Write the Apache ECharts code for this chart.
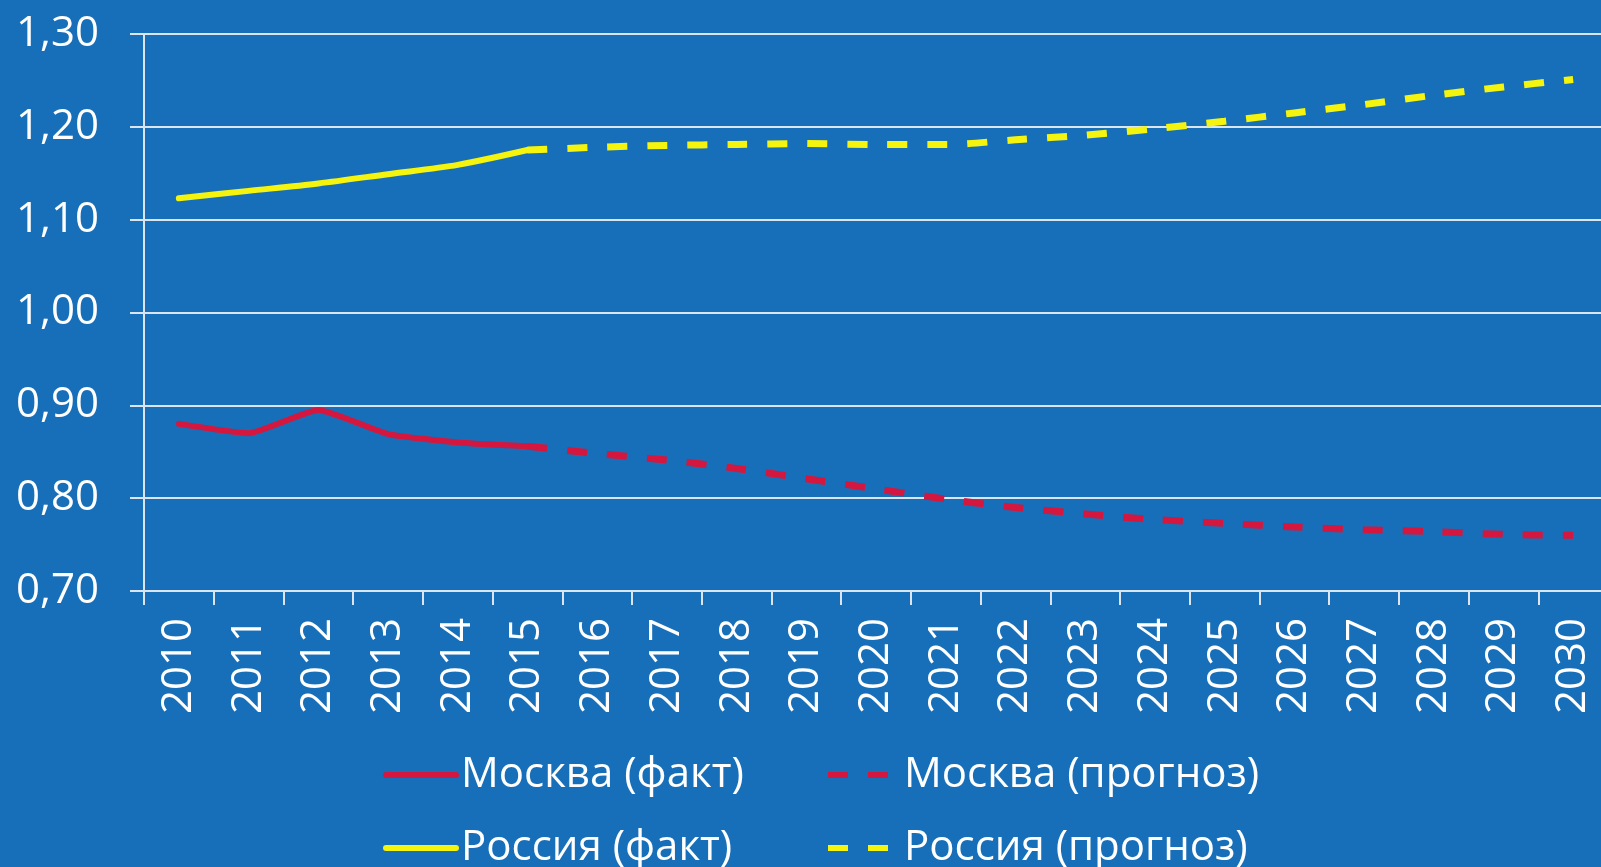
<!DOCTYPE html>
<html>
<head>
<meta charset="utf-8">
<script src="https://cdn.jsdelivr.net/npm/echarts@6/dist/echarts.min.js"></script>
<style>
  html, body { margin: 0; padding: 0; background: #186fb9; }
  #main { width: 1601px; height: 867px; }
</style>
</head>
<body>
<div id="main"></div>
<script>
// годы по оси X
var years = ['2010', '2011', '2012', '2013', '2014', '2015', '2016', '2017', '2018', '2019', '2020',
             '2021', '2022', '2023', '2024', '2025', '2026', '2027', '2028', '2029', '2030'];

// Москва: факт 2010-2015, прогноз 2015-2030
var moscowFact = [0.880, 0.870, 0.895, 0.869, 0.860, 0.856];
var moscowForecast = [0.856, 0.848, 0.841, 0.832, 0.821, 0.810, 0.799, 0.790, 0.783, 0.777,
                      0.773, 0.769, 0.766, 0.764, 0.761, 0.760];

// Россия: факт 2010-2015, прогноз 2015-2030
var russiaFact = [1.123, 1.131, 1.139, 1.149, 1.159, 1.175];
var russiaForecast = [1.175, 1.178, 1.180, 1.181, 1.182, 1.181, 1.181, 1.186, 1.191, 1.198,
                      1.206, 1.215, 1.224, 1.234, 1.243, 1.251];

var yTicks = { min: 0.7, max: 1.3, step: 0.1 };

var RED = '#d4173f';
var YELLOW = '#f4f40e';
var WHITE = '#ffffff';
var GRIDC = '#dbe5f0';
var FONT = '"Open Sans", "Noto Sans", sans-serif';

// факт занимает первые точки, прогноз - с 2015 года
function padFact(arr) {
    var out = arr.slice();
    while (out.length < years.length) out.push('-');
    return out;
}
function padForecast(arr) {
    var out = [];
    while (out.length + arr.length < years.length) out.push('-');
    return out.concat(arr);
}

// одна легенда на каждую серию, чтобы выровнять колонки
function legendItem(name, left, top, w, gap) {
    return {
        left: left, top: top, padding: 0,
        itemWidth: w, itemHeight: 14,
        data: [name],
        itemStyle: { opacity: 0 },
        lineStyle: { width: 6 },
        textStyle: { color: WHITE, fontSize: 42, fontFamily: FONT, lineHeight: 50, padding: [0, 0, 0, gap] }
    };
}

var chart = echarts.init(document.getElementById('main'));
chart.setOption({
    backgroundColor: '#186fb9',
    animation: false,
    grid: { left: 144, right: -7, top: 34, bottom: 276, outerBoundsMode: 'none' },
    legend: [
        legendItem('Москва (факт)', 383, 750, 70, 0),
        legendItem('Москва (прогноз)', 825, 750, 61, 10),
        legendItem('Россия (факт)', 383, 823, 70, 0),
        legendItem('Россия (прогноз)', 825, 823, 61, 10)
    ],
    xAxis: {
        type: 'category',
        data: years,
        boundaryGap: true,
        axisLine: { lineStyle: { color: GRIDC, width: 2 } },
        axisTick: { show: true, interval: 0, length: 14, lineStyle: { color: GRIDC, width: 2 } },
        axisLabel: { interval: 0, rotate: 90, margin: 27, color: WHITE, fontSize: 42, fontFamily: FONT },
        splitLine: { show: false }
    },
    yAxis: {
        type: 'value',
        min: yTicks.min,
        max: yTicks.max,
        interval: yTicks.step,
        axisLine: { show: true, lineStyle: { color: GRIDC, width: 2 } },
        axisTick: { show: true, length: 14, lineStyle: { color: GRIDC, width: 2 } },
        axisLabel: {
            margin: 45, color: WHITE, fontSize: 42, fontFamily: FONT,
            formatter: function (v) { return v.toFixed(2).replace('.', ','); }
        },
        splitLine: { lineStyle: { color: GRIDC, width: 2 } }
    },
    series: [
        {
            name: 'Москва (факт)', type: 'line', symbol: 'none', smooth: 0.15,
            data: padFact(moscowFact),
            itemStyle: { color: RED },
            lineStyle: { color: RED, width: 6, cap: 'round', join: 'round' },
            z: 3
        },
        {
            name: 'Москва (прогноз)', type: 'line', symbol: 'none', smooth: 0.3,
            data: padForecast(moscowForecast),
            itemStyle: { color: RED },
            lineStyle: { color: RED, width: 7, type: [20, 20] },
            z: 2
        },
        {
            name: 'Россия (факт)', type: 'line', symbol: 'none', smooth: 0.3,
            data: padFact(russiaFact),
            itemStyle: { color: YELLOW },
            lineStyle: { color: YELLOW, width: 6, cap: 'round', join: 'round' },
            z: 3
        },
        {
            name: 'Россия (прогноз)', type: 'line', symbol: 'none', smooth: 0.3,
            data: padForecast(russiaForecast),
            itemStyle: { color: YELLOW },
            lineStyle: { color: YELLOW, width: 7, type: [20, 20] },
            z: 2
        }
    ]
});
</script>
</body>
</html>
